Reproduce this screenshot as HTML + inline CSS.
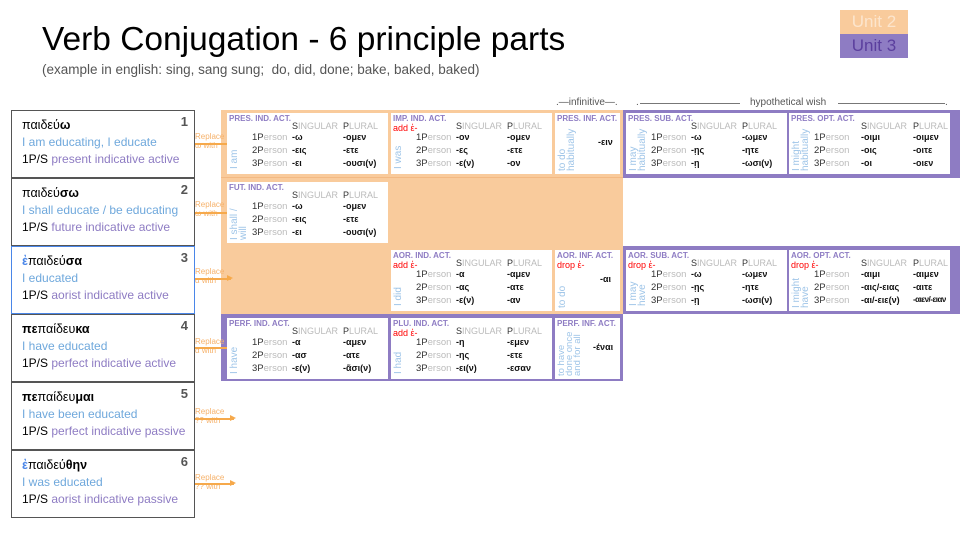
<!DOCTYPE html>
<html><head><meta charset="utf-8"><style>
*{margin:0;padding:0;box-sizing:border-box}
body{width:960px;height:540px;background:#fff;position:relative;overflow:hidden;font-family:"Liberation Sans","DejaVu Sans",sans-serif}
.a{position:absolute;white-space:nowrap}
.lb{position:absolute;left:11px;width:184px;height:68px;border:1px solid #555;background:#fff}
.lb .g{position:absolute;left:10px;top:7px;font-size:12.5px;color:#000}
.lb .e{position:absolute;left:10px;top:24px;font-size:12px;color:#6fa8dc}
.lb .t{position:absolute;left:10px;top:41px;font-size:12px;color:#000}
.lb .t span{color:#8e7cc3}
.lb .n{position:absolute;right:6px;top:3px;font-size:13px;color:#555;font-weight:bold}
.rep{position:absolute;left:195px;font-size:8px;color:#f6b26b;line-height:9px}
.arr{position:absolute;height:1.5px;background:#f6a94b}
.arr:after{content:"";position:absolute;right:-2px;top:-3px;border-left:6px solid #f6a94b;border-top:3.5px solid transparent;border-bottom:3.5px solid transparent}
.p{position:absolute;background:#fff;width:161px;height:61px}
.p .h{position:absolute;left:2px;top:1px;font-size:8px;font-weight:bold;color:#8e7cc3}
.p .ad{position:absolute;left:2px;top:10px;font-size:9px;color:#f00}
.p .s,.p .pl{position:absolute;top:8px;font-size:9px;color:#bbb}
.p .s{left:65px}.p .pl{left:116px}
.p .s b,.p .pl b{color:#333;font-weight:normal}
.p .r{position:absolute;left:25px;font-size:9.5px;color:#333}
.p .r i{font-style:normal;color:#bbb}
.p .x{position:absolute;font-size:9px;font-weight:bold;color:#111}
.p .v{position:absolute;left:3px;bottom:4px;font-size:10px;color:#9fc5e8;transform:rotate(-90deg);transform-origin:0 0;line-height:9px;white-space:nowrap}
.inf{position:absolute;background:#fff;width:65px;height:61px}
.inf .h{position:absolute;left:2px;top:1px;font-size:8px;font-weight:bold;color:#8e7cc3}
.inf .ad{position:absolute;left:2px;top:10px;font-size:9px;color:#f00}
.inf .x{position:absolute;font-size:9px;font-weight:bold;color:#111}
.inf .v{position:absolute;left:3px;font-size:10px;color:#9fc5e8;transform:rotate(-90deg);transform-origin:0 0;line-height:9px;white-space:nowrap}
</style></head><body>

<div class="a" style="left:42px;top:21px;font-size:33.5px;color:#000">Verb Conjugation - 6 principle parts</div>
<div class="a" style="left:42px;top:62px;font-size:13.5px;color:#555">(example in english: sing, sang sung;&nbsp; do, did, done; bake, baked, baked)</div>

<div class="a" style="left:840px;top:10px;width:68px;height:24px;background:#f9cb9c;color:#fce5cd;font-size:17px;text-align:center;line-height:24px">Unit 2</div>
<div class="a" style="left:840px;top:34px;width:68px;height:24px;background:#8e7cc3;color:#5b3f9e;font-size:17px;text-align:center;line-height:24px">Unit 3</div>

<div class="lb" style="top:110px"><div class="g">παιδεύ<b>ω</b></div><div class="e">I am educating, I educate</div><div class="t">1P/S <span>present indicative active</span></div><div class="n">1</div></div>
<div class="lb" style="top:178px"><div class="g">παιδεύ<b>σω</b></div><div class="e">I shall educate / be educating</div><div class="t">1P/S <span>future indicative active</span></div><div class="n">2</div></div>
<div class="lb" style="top:246px;border-color:#4a86e8"><div class="g"><b style="color:#4a86e8">ἐ</b>παιδεύ<b>σα</b></div><div class="e">I educated</div><div class="t">1P/S <span>aorist indicative active</span></div><div class="n">3</div></div>
<div class="lb" style="top:314px"><div class="g"><b>πε</b>παίδευ<b>κα</b></div><div class="e">I have educated</div><div class="t">1P/S <span>perfect indicative active</span></div><div class="n">4</div></div>
<div class="lb" style="top:382px"><div class="g"><b>πε</b>παίδευ<b>μαι</b></div><div class="e">I have been educated</div><div class="t">1P/S <span>perfect indicative passive</span></div><div class="n">5</div></div>
<div class="lb" style="top:450px"><div class="g"><b style="color:#4a86e8">ἐ</b>παιδεύ<b>θην</b></div><div class="e">I was educated</div><div class="t">1P/S <span>aorist indicative passive</span></div><div class="n">6</div></div>

<div class="a" style="left:221px;top:110px;width:402px;height:204px;background:#f9cb9c"></div>
<div class="a" style="left:221px;top:314px;width:402px;height:67px;background:#8e7cc3"></div>
<div class="a" style="left:623px;top:110px;width:337px;height:68px;background:#8e7cc3"></div>
<div class="a" style="left:623px;top:246px;width:337px;height:68px;background:#8e7cc3"></div>
<div class="a" style="left:221px;top:177px;width:402px;height:1px;background:#f3b983"></div>

<div class="a" style="left:556px;top:97px;font-size:10px;color:#555">.—infinitive—.</div>
<div class="a" style="left:636px;top:97px;font-size:10px;color:#555">.</div>
<div class="a" style="left:640px;top:103px;width:100px;height:1px;background:#777"></div>
<div class="a" style="left:750px;top:97px;font-size:10px;color:#555">hypothetical wish</div>
<div class="a" style="left:838px;top:103px;width:107px;height:1px;background:#777"></div>
<div class="a" style="left:945px;top:97px;font-size:10px;color:#555">.</div>

<div class="rep" style="top:132px">Replace<br>ω with</div><div class="arr" style="left:195px;top:143px;width:36px"></div>
<div class="rep" style="top:200px">Replace<br>ω with</div><div class="arr" style="left:195px;top:212px;width:36px"></div>
<div class="rep" style="top:267px">Replace<br>α with</div><div class="arr" style="left:195px;top:278px;width:36px"></div>
<div class="rep" style="top:337px">Replace<br>α with</div><div class="arr" style="left:195px;top:347px;width:36px"></div>
<div class="rep" style="top:407px">Replace<br>?? with</div><div class="arr" style="left:195px;top:418px;width:39px"></div>
<div class="rep" style="top:473px">Replace<br>?? with</div><div class="arr" style="left:195px;top:483px;width:39px"></div>

<div class="p" style="left:227px;top:113px"><div class="h">PRES. IND. ACT.</div><div class="s"><b>S</b>INGULAR</div><div class="pl"><b>P</b>LURAL</div>
<div class="r" style="top:19px">1P<i>erson</i></div><div class="r" style="top:32px">2P<i>erson</i></div><div class="r" style="top:45px">3P<i>erson</i></div>
<div class="x" style="left:65px;top:19px">-ω</div><div class="x" style="left:65px;top:32px">-εις</div><div class="x" style="left:65px;top:45px">-ει</div>
<div class="x" style="left:116px;top:19px">-ομεν</div><div class="x" style="left:116px;top:32px">-ετε</div><div class="x" style="left:116px;top:45px">-ουσι(ν)</div>
<div class="v" style="top:56px">I am</div></div>

<div class="p" style="left:391px;top:113px"><div class="h">IMP. IND. ACT.</div><div class="ad">add ἐ-</div><div class="s"><b>S</b>INGULAR</div><div class="pl"><b>P</b>LURAL</div>
<div class="r" style="top:19px">1P<i>erson</i></div><div class="r" style="top:32px">2P<i>erson</i></div><div class="r" style="top:45px">3P<i>erson</i></div>
<div class="x" style="left:65px;top:19px">-ον</div><div class="x" style="left:65px;top:32px">-ες</div><div class="x" style="left:65px;top:45px">-ε(ν)</div>
<div class="x" style="left:116px;top:19px">-ομεν</div><div class="x" style="left:116px;top:32px">-ετε</div><div class="x" style="left:116px;top:45px">-ον</div>
<div class="v" style="top:56px">I was</div></div>

<div class="inf" style="left:555px;top:113px"><div class="h">PRES. INF. ACT.</div><div class="x" style="left:43px;top:24px">-ειν</div><div class="v" style="top:58px">to do<br>habitually</div></div>

<div class="p" style="left:626px;top:113px"><div class="h">PRES. SUB. ACT.</div><div class="s"><b>S</b>INGULAR</div><div class="pl"><b>P</b>LURAL</div>
<div class="r" style="top:19px">1P<i>erson</i></div><div class="r" style="top:32px">2P<i>erson</i></div><div class="r" style="top:45px">3P<i>erson</i></div>
<div class="x" style="left:65px;top:19px">-ω</div><div class="x" style="left:65px;top:32px">-ῃς</div><div class="x" style="left:65px;top:45px">-ῃ</div>
<div class="x" style="left:116px;top:19px">-ωμεν</div><div class="x" style="left:116px;top:32px">-ητε</div><div class="x" style="left:116px;top:45px">-ωσι(ν)</div>
<div class="v" style="top:58px">I may<br>habitually</div></div>

<div class="p" style="left:789px;top:113px"><div class="h">PRES. OPT. ACT.</div><div class="s" style="left:72px"><b>S</b>INGULAR</div><div class="pl" style="left:124px"><b>P</b>LURAL</div>
<div class="r" style="top:19px">1P<i>erson</i></div><div class="r" style="top:32px">2P<i>erson</i></div><div class="r" style="top:45px">3P<i>erson</i></div>
<div class="x" style="left:72px;top:19px">-οιμι</div><div class="x" style="left:72px;top:32px">-οις</div><div class="x" style="left:72px;top:45px">-οι</div>
<div class="x" style="left:124px;top:19px">-οιμεν</div><div class="x" style="left:124px;top:32px">-οιτε</div><div class="x" style="left:124px;top:45px">-οιεν</div>
<div class="v" style="top:58px">I might<br>habitually</div></div>

<div class="p" style="left:227px;top:182px"><div class="h">FUT. IND. ACT.</div><div class="s"><b>S</b>INGULAR</div><div class="pl"><b>P</b>LURAL</div>
<div class="r" style="top:19px">1P<i>erson</i></div><div class="r" style="top:32px">2P<i>erson</i></div><div class="r" style="top:45px">3P<i>erson</i></div>
<div class="x" style="left:65px;top:19px">-ω</div><div class="x" style="left:65px;top:32px">-εις</div><div class="x" style="left:65px;top:45px">-ει</div>
<div class="x" style="left:116px;top:19px">-ομεν</div><div class="x" style="left:116px;top:32px">-ετε</div><div class="x" style="left:116px;top:45px">-ουσι(ν)</div>
<div class="v" style="top:58px">I shall /<br>will</div></div>

<div class="p" style="left:391px;top:250px"><div class="h">AOR. IND. ACT.</div><div class="ad">add ἐ-</div><div class="s"><b>S</b>INGULAR</div><div class="pl"><b>P</b>LURAL</div>
<div class="r" style="top:19px">1P<i>erson</i></div><div class="r" style="top:32px">2P<i>erson</i></div><div class="r" style="top:45px">3P<i>erson</i></div>
<div class="x" style="left:65px;top:19px">-α</div><div class="x" style="left:65px;top:32px">-ας</div><div class="x" style="left:65px;top:45px">-ε(ν)</div>
<div class="x" style="left:116px;top:19px">-αμεν</div><div class="x" style="left:116px;top:32px">-ατε</div><div class="x" style="left:116px;top:45px">-αν</div>
<div class="v" style="top:56px">I did</div></div>

<div class="inf" style="left:555px;top:250px"><div class="h">AOR. INF. ACT.</div><div class="ad">drop ἐ-</div><div class="x" style="left:45px;top:24px">-αι</div><div class="v" style="top:58px">to do</div></div>

<div class="p" style="left:626px;top:250px"><div class="h">AOR. SUB. ACT.</div><div class="ad">drop ἐ-</div><div class="s"><b>S</b>INGULAR</div><div class="pl"><b>P</b>LURAL</div>
<div class="r" style="top:19px">1P<i>erson</i></div><div class="r" style="top:32px">2P<i>erson</i></div><div class="r" style="top:45px">3P<i>erson</i></div>
<div class="x" style="left:65px;top:19px">-ω</div><div class="x" style="left:65px;top:32px">-ῃς</div><div class="x" style="left:65px;top:45px">-ῃ</div>
<div class="x" style="left:116px;top:19px">-ωμεν</div><div class="x" style="left:116px;top:32px">-ητε</div><div class="x" style="left:116px;top:45px">-ωσι(ν)</div>
<div class="v" style="top:56px">I may<br>have</div></div>

<div class="p" style="left:789px;top:250px"><div class="h">AOR. OPT. ACT.</div><div class="ad">drop ἐ-</div><div class="s" style="left:72px"><b>S</b>INGULAR</div><div class="pl" style="left:124px"><b>P</b>LURAL</div>
<div class="r" style="top:19px">1P<i>erson</i></div><div class="r" style="top:32px">2P<i>erson</i></div><div class="r" style="top:45px">3P<i>erson</i></div>
<div class="x" style="left:72px;top:19px">-αιμι</div><div class="x" style="left:72px;top:32px">-αις/-ειας</div><div class="x" style="left:72px;top:45px">-αι/-ειε(ν)</div>
<div class="x" style="left:124px;top:19px">-αιμεν</div><div class="x" style="left:124px;top:32px">-αιτε</div><div class="x" style="left:124px;top:45px;font-size:8px;letter-spacing:-0.5px">-αιεν/-ειαν</div>
<div class="v" style="top:58px">I might<br>have</div></div>

<div class="p" style="left:227px;top:318px"><div class="h">PERF. IND. ACT.</div><div class="s"><b>S</b>INGULAR</div><div class="pl"><b>P</b>LURAL</div>
<div class="r" style="top:19px">1P<i>erson</i></div><div class="r" style="top:32px">2P<i>erson</i></div><div class="r" style="top:45px">3P<i>erson</i></div>
<div class="x" style="left:65px;top:19px">-α</div><div class="x" style="left:65px;top:32px">-ασ</div><div class="x" style="left:65px;top:45px">-ε(ν)</div>
<div class="x" style="left:116px;top:19px">-αμεν</div><div class="x" style="left:116px;top:32px">-ατε</div><div class="x" style="left:116px;top:45px">-ᾶσι(ν)</div>
<div class="v" style="top:56px">I have</div></div>

<div class="p" style="left:391px;top:318px"><div class="h">PLU. IND. ACT.</div><div class="ad">add ἐ-</div><div class="s"><b>S</b>INGULAR</div><div class="pl"><b>P</b>LURAL</div>
<div class="r" style="top:19px">1P<i>erson</i></div><div class="r" style="top:32px">2P<i>erson</i></div><div class="r" style="top:45px">3P<i>erson</i></div>
<div class="x" style="left:65px;top:19px">-η</div><div class="x" style="left:65px;top:32px">-ης</div><div class="x" style="left:65px;top:45px">-ει(ν)</div>
<div class="x" style="left:116px;top:19px">-εμεν</div><div class="x" style="left:116px;top:32px">-ετε</div><div class="x" style="left:116px;top:45px">-εσαν</div>
<div class="v" style="top:56px">I had</div></div>

<div class="inf" style="left:555px;top:318px"><div class="h">PERF. INF. ACT.</div><div class="x" style="left:38px;top:24px">-έναι</div><div class="v" style="top:58px;line-height:8px;font-size:9.5px">to have<br>done once<br>and for all</div></div>

</body></html>
